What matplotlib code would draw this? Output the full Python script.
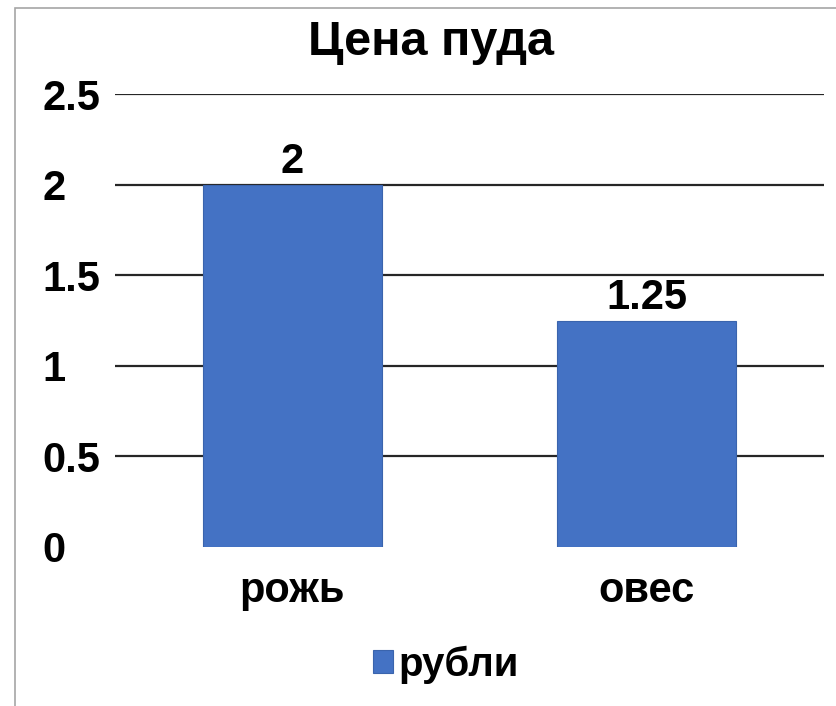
import matplotlib.pyplot as plt
from matplotlib.patches import Rectangle

# price per pood, rubles
categories = ["рожь", "овес"]
prices = [2, 1.25]
series_name = "рубли"
y_ticks = [0, 0.5, 1, 1.5, 2, 2.5]
y_tick_labels = ["0", "0.5", "1", "1.5", "2", "2.5"]

plt.rcParams["font.family"] = ["Liberation Sans", "DejaVu Sans"]
plt.rcParams["font.weight"] = "bold"

W, H = 836, 706
fig = plt.figure(figsize=(W / 100, H / 100), dpi=100)

# thin frame around the chart
fig.patches.append(Rectangle((15 / W, -0.01), 1.0, (H - 8) / H + 0.01,
                             transform=fig.transFigure, fill=False,
                             edgecolor="#a6a6a6", lw=1.2))

ax = fig.add_axes([115 / W, (H - 547) / H, (824 - 115) / W, (547 - 94) / H])

x = range(len(categories))
bars = ax.bar(x, prices, width=0.505, color="#4472C4", edgecolor="#3a64ad",
              linewidth=0.8, label=series_name, zorder=3)
ax.bar_label(bars, labels=[f"{v:g}" for v in prices], padding=2,
             fontsize=30, fontweight="bold")

ax.set_xlim(-0.5, 1.5)
ax.set_ylim(0, 2.5)
ax.set_yticks(y_ticks)
ax.set_yticklabels(y_tick_labels, fontsize=30, fontweight="bold", ha="left")
ax.tick_params(axis="y", length=0, pad=52)
ax.set_xticks(list(x))
ax.set_xticklabels(categories, fontsize=30, fontweight="bold")
ax.tick_params(axis="x", length=0, pad=17)

for yv in y_ticks[1:]:
    ax.axhline(yv, color="#262626", lw=1.6, zorder=1)
for s in ax.spines.values():
    s.set_visible(False)

fig.text(431 / W, 1 - 55 / H, "Цена пуда", ha="center", va="baseline",
         fontsize=35, fontweight="bold")

fig.legend(loc="center", bbox_to_anchor=(446 / W, 1 - 665 / H), frameon=False,
           handlelength=0.5, handleheight=0.5, handletextpad=0.15,
           prop={"weight": "bold", "size": 29})

fig.savefig("out.png", dpi=100)
